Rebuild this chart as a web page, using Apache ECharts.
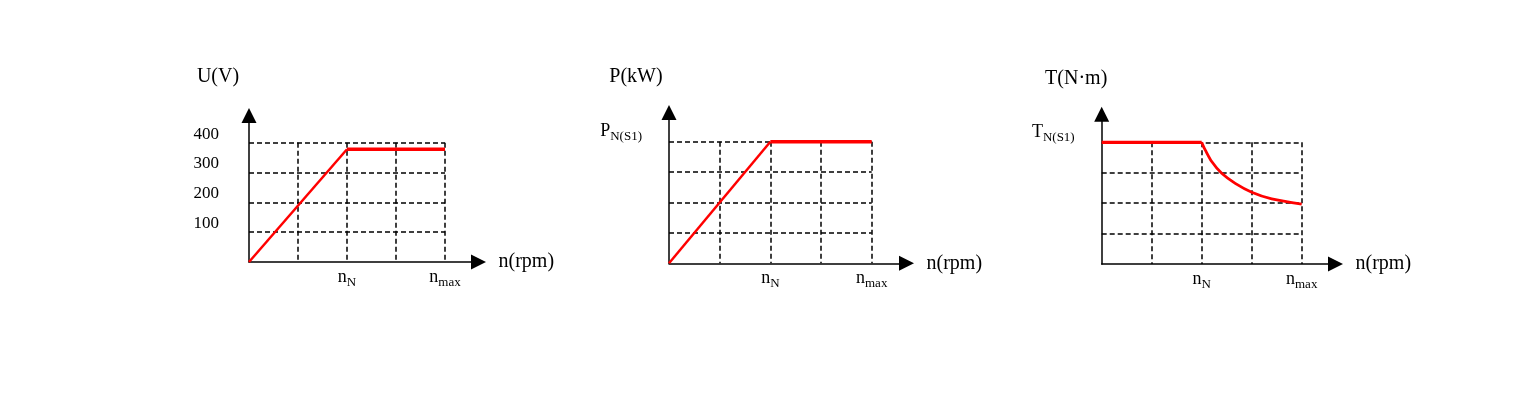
<!DOCTYPE html>
<html>
<head>
<meta charset="utf-8">
<script src="https://cdn.jsdelivr.net/npm/echarts@6/dist/echarts.min.js"></script>
<style>
html,body{margin:0;padding:0;background:#fff;}
#chart{width:1538px;height:412px;}
</style>
</head>
<body>
<div id="chart"></div>
<script>
// ---- data ----
const xTickLabels = ['', '', '{n|n}{s|N}', '', '{n|n}{s|max}'];
const uTickLabels = ['', '100', '200', '300', '400'];
const pTickLabels = ['', '', '', '', '{n|P}{s|N(S1)}'];
const tTickLabels = ['', '', '', '', '{n|T}{s|N(S1)}'];
const axisNamesY = ['U(V)', 'P(kW)', 'T(N·m)'];
const axisNameX = 'n(rpm)';

// Panel 1: voltage
const uRiseN = [0, 2];
const uRiseV = [0, 378];
const uFlatN = [2, 4];
const uFlatV = [378, 378];
// Panel 2: power
const pRiseN = [0, 2];
const pRiseV = [0, 4];
const pFlatN = [2, 4];
const pFlatV = [4, 4];
// Panel 3: torque
const tFlatN = [0, 2];
const tFlatV = [4, 4];
const tCurveN = [2, 2.03, 2.07, 2.2, 2.4, 2.67, 3, 3.4, 4];
const tCurveV = [4, 3.88, 3.75, 3.37, 2.98, 2.65, 2.36, 2.14, 1.97];

const zip = (a, b) => a.map((v, i) => [v, b[i]]);

const FONT = 'Liberation Serif';
const RED = '#ff0000';

// inner grid boxes (0..4 data rectangle)
const inner = [
  {left: 249, top: 142.7, width: 196, height: 119.3},
  {left: 669, top: 141.7, width: 202.7, height: 121.6},
  {left: 1101.7, top: 142.3, width: 200, height: 121.7}
];
// arrow tips
const tips = [
  {x: 486, y: 108},
  {x: 914, y: 105},
  {x: 1343, y: 106.7}
];
const ARW = 15; // arrow length
const nameShift = [31, 33, 25.5];
const nameGapY = [29, 26, 25];
const yMax = [400, 4, 4];
const yInt = [100, 1, 1];
const yLabels = [uTickLabels, pTickLabels, tTickLabels];

const rich = {
  n: {fontFamily: FONT, fontSize: 18, color: '#000', verticalAlign: 'bottom', padding: [0, 0, 3, 0]},
  s: {fontFamily: FONT, fontSize: 13, color: '#000', verticalAlign: 'bottom'}
};
const dash = {color: '#000', type: [5, 3], width: 1.5};

const grids = [], xAxes = [], yAxes = [], series = [];
inner.forEach((g, i) => {
  grids.push({left: g.left, top: g.top, width: g.width, height: g.height});
  const bottomY = g.top + g.height;
  const outerTop = tips[i].y + ARW / 2;
  const outerRight = tips[i].x - ARW / 2;
  grids.push({left: g.left, top: outerTop, width: outerRight - g.left, height: bottomY - outerTop});
  const gi = grids.length - 2, go = grids.length - 1;

  xAxes.push({
    gridIndex: gi, type: 'value', min: 0, max: 4, interval: 1,
    axisLine: {show: false}, axisTick: {show: false},
    splitLine: {show: true, showMinLine: false, lineStyle: dash},
    axisLabel: {margin: 6, formatter: v => xTickLabels[Math.round(v)] || '', rich: rich}
  });
  yAxes.push({
    gridIndex: gi, type: 'value', min: 0, max: yMax[i], interval: yInt[i],
    axisLine: {show: false}, axisTick: {show: false},
    splitLine: {show: true, showMinLine: false, lineStyle: dash},
    axisLabel: i === 0 ? {
      margin: 30, fontFamily: FONT, fontSize: 17, color: '#000',
      verticalAlign: 'bottom', lineHeight: 17,
      formatter: v => yLabels[i][Math.round(v / yInt[i])] || ''
    } : {
      margin: 27, padding: [0, 0, 18, 0],
      formatter: v => yLabels[i][Math.round(v / yInt[i])] || '', rich: rich
    }
  });
  xAxes.push({
    gridIndex: go, type: 'value', min: 0, max: 1, z: 3,
    axisLine: {show: true, symbol: ['none', 'triangle'], symbolSize: [15, ARW], lineStyle: {color: '#000', width: 1.5}},
    axisTick: {show: false}, axisLabel: {show: false}, splitLine: {show: false},
    name: axisNameX, nameLocation: 'end', nameGap: 20,
    nameTextStyle: {fontFamily: FONT, fontSize: 20, color: '#000', padding: [0, 0, 6, 0]}
  });
  yAxes.push({
    gridIndex: go, type: 'value', min: 0, max: 1, z: 3,
    axisLine: {show: true, symbol: ['none', 'triangle'], symbolSize: [15, ARW], lineStyle: {color: '#000', width: 1.5}},
    axisTick: {show: false}, axisLabel: {show: false}, splitLine: {show: false},
    name: axisNamesY[i], nameLocation: 'end', nameGap: nameGapY[i],
    nameTextStyle: {fontFamily: FONT, fontSize: 20, color: '#000', align: 'center', padding: [0, nameShift[i] * 2, 0, 0]}
  });
});

function line(axisIdx, data, width, smooth) {
  return {
    type: 'line', xAxisIndex: axisIdx, yAxisIndex: axisIdx, data: data,
    showSymbol: false, smooth: smooth || false, z: 5, silent: true,
    lineStyle: {color: RED, width: width}
  };
}
series.push(line(0, zip(uRiseN, uRiseV), 2.5));
series.push(line(0, zip(uFlatN, uFlatV), 3.5));
series.push(line(2, zip(pRiseN, pRiseV), 2.5));
series.push(line(2, zip(pFlatN, pFlatV), 3.5));
series.push(line(4, zip(tFlatN, tFlatV), 3.5));
series.push(line(4, zip(tCurveN, tCurveV), 2.8, 0.3));

const chart = echarts.init(document.getElementById('chart'), null, {renderer: 'canvas'});
chart.setOption({
  backgroundColor: '#fff',
  animation: false,
  grid: grids,
  xAxis: xAxes,
  yAxis: yAxes,
  series: series
});
</script>
</body>
</html>
